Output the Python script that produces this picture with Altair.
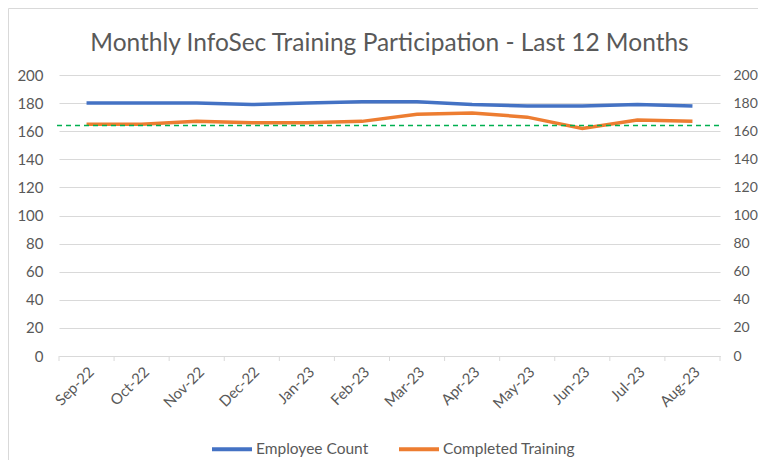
import altair as alt
import pandas as pd

months = ["Sep-22", "Oct-22", "Nov-22", "Dec-22", "Jan-23", "Feb-23",
          "Mar-23", "Apr-23", "May-23", "Jun-23", "Jul-23", "Aug-23"]
employee_count = [180, 180, 180, 179, 180, 181, 181, 179, 178, 178, 179, 178]
completed_training = [165, 165, 167, 166, 166, 167, 172, 173, 170, 162, 168, 167]
target_value = 164
series_names = ["Employee Count", "Completed Training"]
series_colors = ["#4472C4", "#ED7D31"]
y_ticks = list(range(0, 201, 20))
title_text = "Monthly InfoSec Training Participation - Last 12 Months"

df = pd.DataFrame({
    "month": months * 2,
    "series": [series_names[0]] * len(months) + [series_names[1]] * len(months),
    "value": employee_count + completed_training,
})
df_months = pd.DataFrame({"month": months})
df_target = pd.DataFrame({"target": [target_value]})

FONT = "Lato"
GREY = "#595959"
GRID = "#D9D9D9"
W, H = 661, 281

xscale = alt.Scale(type="band", domain=months, paddingInner=0, paddingOuter=0)
yscale = alt.Scale(domain=[0, 200])

border = alt.Chart(pd.DataFrame({"a": [0]})).mark_rect(
    fillOpacity=0, stroke=GRID, strokeWidth=1
).encode(
    x=alt.value(-50.5), x2=alt.value(W + 60),
    y=alt.value(-66.5), y2=alt.value(H + 130),
)

lines = alt.Chart(df).mark_line(strokeWidth=3.5).encode(
    x=alt.X("month:O", sort=months, scale=xscale, bandPosition=0.5,
            axis=alt.Axis(title=None, labelAngle=-45, ticks=False, grid=False,
                          domainColor=GRID, labelColor=GREY, labelFontSize=15,
                          labelFont=FONT, labelPadding=8)),
    y=alt.Y("value:Q", scale=yscale,
            axis=alt.Axis(title=None, values=y_ticks, grid=True, gridColor=GRID,
                          domain=False, ticks=False, labelPadding=16,
                          labelColor=GREY, labelFontSize=15, labelFont=FONT)),
    color=alt.Color("series:N", sort=series_names,
                    scale=alt.Scale(domain=series_names, range=series_colors),
                    legend=alt.Legend(title=None, orient="none", direction="horizontal",
                                      legendX=151, legendY=352,
                                      symbolType="stroke", symbolStrokeWidth=4,
                                      symbolSize=1600, labelFont=FONT, labelFontSize=15.5,
                                      labelColor=GREY, labelOffset=2, columnPadding=22)),
)

target = alt.Chart(df_target).mark_rule(
    color="#00B050", strokeWidth=1.5, strokeDash=[5, 4]
).encode(
    y=alt.Y("target:Q", scale=yscale,
            axis=alt.Axis(title=None, orient="right", values=y_ticks, grid=False,
                          domain=False, ticks=False, labelPadding=13,
                          labelColor=GREY, labelFontSize=14, labelFont=FONT)),
    x=alt.value(-2), x2=alt.value(W + 3),
)

tick_start = alt.Chart(df_months).mark_rule(color=GRID, strokeWidth=1).encode(
    x=alt.X("month:O", sort=months, scale=xscale, bandPosition=0),
    y=alt.value(H), y2=alt.value(H + 5),
)
tick_end = alt.Chart(df_months.tail(1)).mark_rule(color=GRID, strokeWidth=1).encode(
    x=alt.X("month:O", sort=months, scale=xscale, bandPosition=1),
    y=alt.value(H), y2=alt.value(H + 5),
)

chart = alt.layer(border, lines, target, tick_start, tick_end).resolve_axis(
    y="independent"
).properties(
    width=W, height=H,
    title=alt.Title(title_text, font=FONT, fontSize=24.5, fontWeight="normal",
                    color=GREY, anchor="middle", baseline="alphabetic", offset=-67),
    autosize=alt.AutoSizeParams(type="none"),
    padding={"left": 51, "top": 67, "right": 38, "bottom": 104},
    background="white",
).configure_view(stroke=None)

chart.save("out.html", embed_options={"renderer": "svg", "actions": False})
